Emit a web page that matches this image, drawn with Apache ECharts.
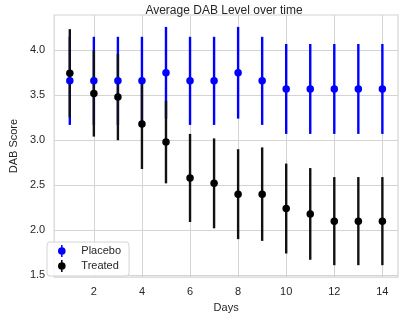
<!DOCTYPE html>
<html lang="en">
<head>
    <meta charset="UTF-8">
    <title>Average DAB Level over time</title>
    <script src="https://cdn.jsdelivr.net/npm/echarts@6/dist/echarts.min.js"></script>
    <style>
        html, body { margin: 0; padding: 0; background: #fff; }
        #main { width: 400px; height: 318px; }
    </style>
</head>
<body>
<div id="main"></div>
<script>
    // data
    var days = [1, 2, 3, 4, 5, 6, 7, 8, 9, 10, 11, 12, 13, 14];
    var placeboMean = [3.66, 3.66, 3.66, 3.66, 3.75, 3.66, 3.66, 3.75, 3.66, 3.57, 3.57, 3.57, 3.57, 3.57];
    var placeboErr  = [0.49, 0.49, 0.49, 0.49, 0.51, 0.49, 0.49, 0.51, 0.49, 0.50, 0.50, 0.50, 0.50, 0.50];
    var treatedMean = [3.745, 3.52, 3.48, 3.18, 2.98, 2.58, 2.52, 2.40, 2.40, 2.24, 2.18, 2.10, 2.10, 2.10];
    var treatedErr  = [0.49, 0.48, 0.48, 0.50, 0.46, 0.49, 0.50, 0.50, 0.52, 0.50, 0.51, 0.49, 0.49, 0.49];
    var xTicks = [2, 4, 6, 8, 10, 12, 14];
    var yTicks = [1.5, 2.0, 2.5, 3.0, 3.5, 4.0];

    var font = 'Liberation Sans, Arial, sans-serif';
    var gridColor = '#d4d4d4';
    // legend icon: dot with a vertical error bar
    var ebIcon = 'path://M3.3,0H4.7V11H3.3Z M0.5,5.5A3.5,3.5,0,1,1,7.5,5.5A3.5,3.5,0,1,1,0.5,5.5Z';

    function pts(mean) {
        return days.map(function (d, i) { return [d, mean[i]]; });
    }
    function bars(mean, err) {
        return days.map(function (d, i) { return [d, mean[i] - err[i], mean[i] + err[i]]; });
    }
    function barItem(color) {
        return function (params, api) {
            var lo = api.coord([api.value(0), api.value(1)]);
            var hi = api.coord([api.value(0), api.value(2)]);
            return {
                type: 'line',
                shape: { x1: lo[0], y1: lo[1], x2: hi[0], y2: hi[1] },
                style: { stroke: color, lineWidth: 2.4 }
            };
        };
    }

    var myChart = echarts.init(document.getElementById('main'));
    var option = {
        backgroundColor: '#fff',
        animation: false,
        title: {
            text: 'Average DAB Level over time',
            left: 219, top: 0, textAlign: 'center',
            textStyle: { fontFamily: font, fontSize: 12, fontWeight: 'normal', color: '#262626' }
        },
        grid: {
            left: 41, right: 2, top: 15, bottom: 37,
            show: true, borderColor: gridColor, borderWidth: 1.2
        },
        legend: {
            orient: 'vertical',
            left: 47, top: 242,
            padding: [3, 8, 4, 11],
            itemGap: 3,
            itemWidth: 9, itemHeight: 12,
            backgroundColor: 'rgba(255,255,255,0.85)',
            borderColor: '#d4d4d4', borderWidth: 1, borderRadius: 3,
            textStyle: { fontFamily: font, fontSize: 11, color: '#262626', padding: [0, 0, 0, 10] },
            data: [
                { name: 'Placebo', icon: ebIcon, itemStyle: { color: 'blue' } },
                { name: 'Treated', icon: ebIcon, itemStyle: { color: 'black' } }
            ]
        },
        xAxis: {
            type: 'value',
            min: 0.35, max: 14.65,
            name: 'Days', nameLocation: 'middle', nameGap: 23,
            nameTextStyle: { fontFamily: font, fontSize: 11, color: '#262626' },
            axisLine: { show: false },
            axisTick: { show: false, customValues: xTicks },
            axisLabel: { customValues: xTicks, margin: 9, fontFamily: font, fontSize: 11, color: '#262626' },
            splitLine: { show: true, lineStyle: { color: gridColor, width: 1 } }
        },
        yAxis: {
            type: 'value',
            min: 1.4775, max: 4.3925,
            name: 'DAB Score', nameLocation: 'middle', nameGap: 28,
            nameTextStyle: { fontFamily: font, fontSize: 11, color: '#262626' },
            axisLine: { show: false },
            axisTick: { show: false, customValues: yTicks },
            axisLabel: {
                customValues: yTicks, margin: 9, fontFamily: font, fontSize: 11, color: '#262626',
                formatter: function (v) { return v.toFixed(1); }
            },
            splitLine: { show: true, lineStyle: { color: gridColor, width: 1 } }
        },
        series: [
            {
                name: 'Placebo', type: 'custom', z: 2,
                renderItem: barItem('blue'),
                data: bars(placeboMean, placeboErr),
                encode: { x: 0, y: [1, 2] }
            },
            {
                name: 'Treated', type: 'custom', z: 3,
                renderItem: barItem('#111'),
                data: bars(treatedMean, treatedErr),
                encode: { x: 0, y: [1, 2] }
            },
            {
                name: 'Placebo', type: 'scatter', z: 4,
                symbol: 'circle', symbolSize: 7.5,
                itemStyle: { color: 'blue', opacity: 1 },
                data: pts(placeboMean)
            },
            {
                name: 'Treated', type: 'scatter', z: 5,
                symbol: 'circle', symbolSize: 7.5,
                itemStyle: { color: 'black', opacity: 1 },
                data: pts(treatedMean)
            }
        ]
    };
    myChart.setOption(option);
</script>
</body>
</html>
